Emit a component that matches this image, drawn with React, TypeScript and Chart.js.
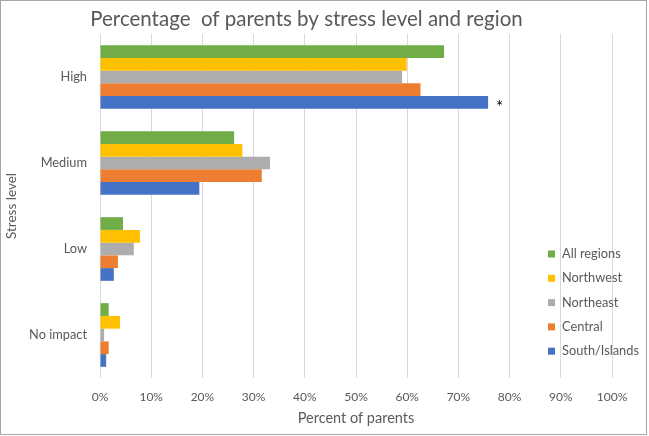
import { useEffect, useRef } from 'react';
import { Chart, registerables } from 'chart.js';

Chart.register(...registerables);

const categories = ['High', 'Medium', 'Low', 'No impact'];
const seriesNames = ['All regions', 'Northwest', 'Northeast', 'Central', 'South/Islands'];
const allRegions = [67.2, 26.2, 4.5, 1.7];
const northwest = [59.9, 27.8, 7.8, 3.9];
const northeast = [59.0, 33.2, 6.6, 0.8];
const central = [62.6, 31.6, 3.5, 1.7];
const southIslands = [75.8, 19.4, 2.7, 1.2];
const seriesColors = ['#70AD47', '#FFC000', '#ADADAD', '#ED7D31', '#4472C4'];
const xTickValues = [0, 10, 20, 30, 40, 50, 60, 70, 80, 90, 100];
const annotations = [{ series: 'South/Islands', category: 'High', text: '*' }];

const FONT = 'Lato, "Open Sans", sans-serif';
const TEXT = '#595959';

const overlayLegend = {
  id: 'overlayLegend',
  afterDatasetsDraw(chart: any, _args: any, opts: any) {
    const ctx = chart.ctx;
    ctx.save();
    ctx.font = `${opts.fontSize}px ${FONT}`;
    ctx.textBaseline = 'middle';
    ctx.textAlign = 'left';
    chart.data.datasets.forEach((ds: any, i: number) => {
      const y = opts.top + i * opts.spacing;
      ctx.fillStyle = ds.backgroundColor;
      ctx.fillRect(opts.left, y - opts.box / 2, opts.box, opts.box);
      ctx.fillStyle = TEXT;
      ctx.fillText(ds.label, opts.left + opts.box + opts.gap, y);
    });
    ctx.restore();
  },
};

const barNotes = {
  id: 'barNotes',
  afterDatasetsDraw(chart: any) {
    const ctx = chart.ctx;
    ctx.save();
    ctx.font = `17px ${FONT}`;
    ctx.fillStyle = '#000000';
    ctx.textBaseline = 'middle';
    ctx.textAlign = 'left';
    annotations.forEach((a) => {
      const di = seriesNames.indexOf(a.series);
      const ci = categories.indexOf(a.category);
      const el = chart.getDatasetMeta(di).data[ci];
      if (el) ctx.fillText(a.text, el.x + 8, el.y + 5);
    });
    ctx.restore();
  },
};

export default function App() {
  const ref = useRef<HTMLCanvasElement>(null);
  useEffect(() => {
    if (!ref.current) return;
    const seriesData = [allRegions, northwest, northeast, central, southIslands];
    const chart = new Chart(ref.current, {
      type: 'bar',
      data: {
        labels: categories,
        datasets: seriesNames.map((name, i) => ({
          label: name,
          data: seriesData[i],
          backgroundColor: seriesColors[i],
          borderWidth: 0,
          categoryPercentage: 0.74,
          barPercentage: 1,
        })),
      },
      options: {
        indexAxis: 'y',
        responsive: false,
        animation: false,
        layout: { padding: { left: 0, right: 34, top: 0, bottom: 0 } },
        plugins: {
          legend: { display: false },
          tooltip: { enabled: false },
          title: {
            display: true,
            text: 'Percentage  of parents by stress level and region',
            color: TEXT,
            font: { family: FONT, size: 20.5, weight: 'normal', lineHeight: 1.2 },
            padding: { top: 6, bottom: 2.4 },
          },
          overlayLegend: { left: 547, top: 253, spacing: 24.3, box: 7, gap: 7, fontSize: 12.8 },
        } as any,
        scales: {
          x: {
            type: 'linear',
            min: 0,
            max: 100,
            afterBuildTicks: (scale: any) => {
              scale.ticks = xTickValues.map((v) => ({ value: v }));
            },
            afterFit: (scale: any) => {
              scale.height = 56;
            },
            grid: { color: '#D9D9D9', drawTicks: false, lineWidth: 1 },
            border: { display: false },
            ticks: {
              color: TEXT,
              font: { family: FONT, size: 12 },
              padding: 12,
              callback: (v: any) => `${v}%`,
            },
            title: {
              display: true,
              text: 'Percent of parents',
              color: TEXT,
              font: { family: FONT, size: 14.5, lineHeight: 1.2 },
              padding: { top: 0, bottom: 7 },
            },
          },
          y: {
            type: 'category',
            afterFit: (scale: any) => {
              scale.width = 99;
            },
            grid: { display: false, drawTicks: false },
            border: { display: false },
            ticks: { color: TEXT, font: { family: FONT, size: 12.8 }, padding: 13 },
            title: {
              display: true,
              text: 'Stress level',
              color: TEXT,
              font: { family: FONT, size: 13.5, lineHeight: 1.2 },
              padding: { top: 3, bottom: 0 },
            },
          },
        },
      },
      plugins: [overlayLegend, barNotes],
    });
    return () => chart.destroy();
  }, []);
  return (
    <div
      style={{
        position: 'absolute',
        left: 0,
        top: 0,
        width: 645,
        height: 433,
        border: '1px solid #A6A6A6',
        background: '#FFFFFF',
      }}
    >
      <canvas ref={ref} width={645} height={433} style={{ display: 'block' }} />
    </div>
  );
}
